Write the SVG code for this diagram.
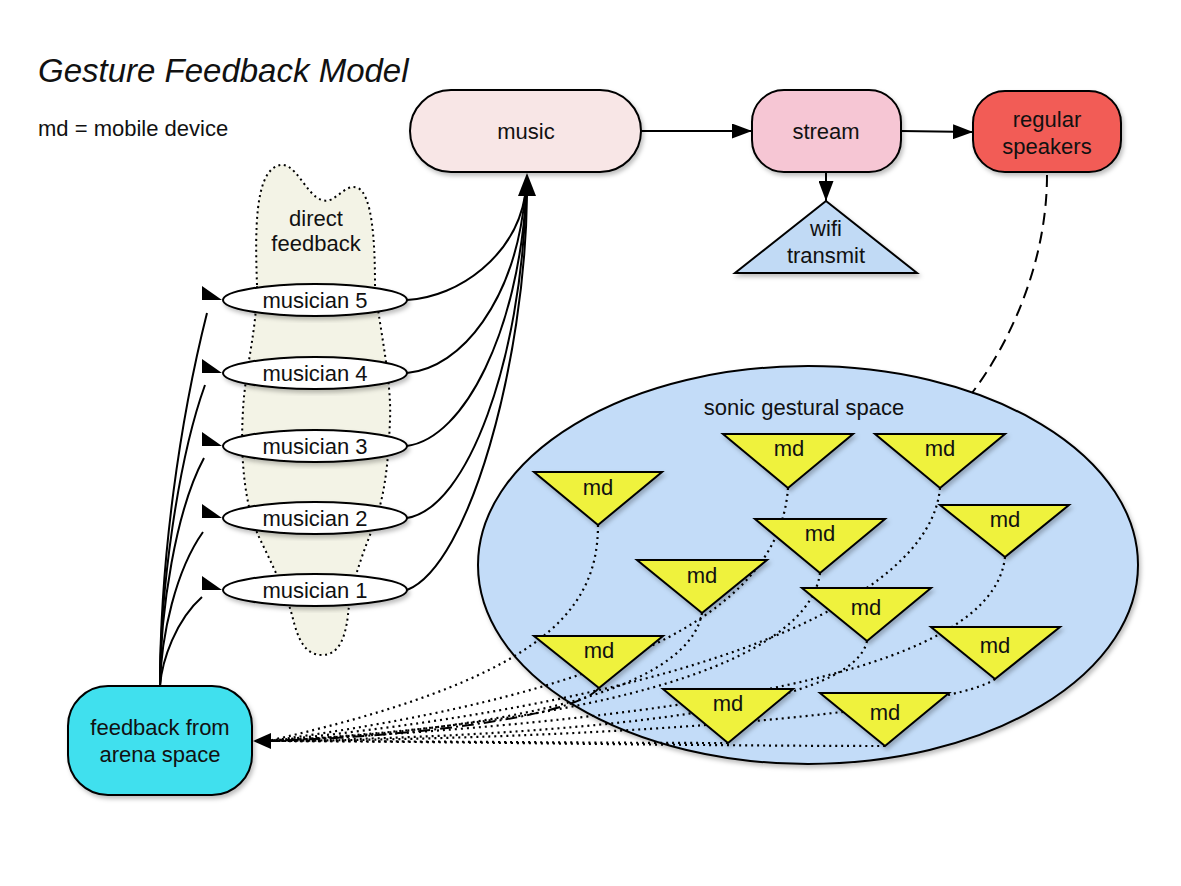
<svg xmlns="http://www.w3.org/2000/svg" width="1181" height="886" viewBox="0 0 1181 886">
<defs>
<filter id="sh" x="-10%" y="-10%" width="130%" height="130%">
<feDropShadow dx="2" dy="3" stdDeviation="2" flood-color="#000" flood-opacity="0.25"/>
</filter>
<marker id="ah" markerUnits="userSpaceOnUse" markerWidth="20" markerHeight="15" refX="20" refY="7.5" orient="auto">
<path d="M0,0 L20,7.5 L0,15 Z" fill="#000"/>
</marker>
</defs>
<style>
text{font-family:"Liberation Sans",Arial,sans-serif;fill:#111;text-anchor:middle}
.t{font-size:22px}
.node{stroke:#000;stroke-width:2}
.md{fill:#eff23d;stroke:#000;stroke-width:2;filter:url(#sh)}
.sol{fill:none;stroke:#000;stroke-width:2}
.dot{fill:none;stroke:#000;stroke-width:2.2;stroke-dasharray:2 4}
</style>
<rect width="1181" height="886" fill="#fff"/>

<g id="title">
<text x="38" y="82" style="font-size:33px;font-style:italic;text-anchor:start">Gesture Feedback Model</text>
<text x="38" y="136" style="font-size:22px;text-anchor:start">md = mobile device</text>
</g>

<g id="direct-feedback">
<path d="M257,285 C255,230 255,175 277,166 C295,158 305,195 322,200 C335,205 345,182 358,188 C372,195 375,240 375,285 C378,320 392,380 390,420 C388,470 384,500 372,530 C360,560 350,590 348,615 C345,640 338,655 322,655 C305,655 298,640 292,615 C285,590 270,560 258,535 C245,505 240,460 243,410 C245,370 257,330 257,285 Z" fill="#f3f3e6" stroke="#000" stroke-width="2" stroke-dasharray="2 3.5"/>
<text class="t" x="316" y="226">direct</text>
<text class="t" x="316" y="251">feedback</text>
</g>

<g id="sonic-gestural-space">
<ellipse cx="808" cy="565" rx="330" ry="199" fill="#c3dcf8" stroke="#000" stroke-width="2" filter="url(#sh)"/>
<text class="t" x="804" y="415">sonic gestural space</text>
</g>

<g id="connectors">
<path class="sol" d="M641,131 L752,131" marker-end="url(#ah)"/>
<path class="sol" d="M901,131 L973,132" marker-end="url(#ah)"/>
<path class="sol" d="M826,172 L826,201" marker-end="url(#ah)"/>
<path d="M1047,175 C1047,260 1012,340 972,393" fill="none" stroke="#000" stroke-width="2" stroke-dasharray="12 7"/>
<path class="sol" d="M407,300 C460,297 515,255 525,196"/>
<path class="sol" d="M407,373 C462,368 515,300 525,196"/>
<path class="sol" d="M407,446 C465,438 518,330 526,196"/>
<path class="sol" d="M407,518 C468,508 521,360 526,196"/>
<path class="sol" d="M407,590 C470,565 525,360 527,196"/>
<polygon points="527,173 518,196 536,196" fill="#000"/>
<path class="sol" d="M160,686 C160,560 180,420 207,313"/>
<path class="sol" d="M160,686 C160,590 178,460 205,385"/>
<path class="sol" d="M160,686 C160,610 176,510 204,458"/>
<path class="sol" d="M160,686 C161,635 176,570 203,532"/>
<path class="sol" d="M160,686 C162,660 176,620 202,597"/>
<polygon points="202,286 202,300 222,300" fill="#000"/>
<polygon points="202,359 202,373 222,373" fill="#000"/>
<polygon points="202,432 202,446 222,446" fill="#000"/>
<polygon points="202,504 202,518 222,518" fill="#000"/>
<polygon points="202,576 202,590 222,590" fill="#000"/>
<path class="dot" d="M598,525 C598,615 535,680 268,741"/>
<path class="dot" d="M788,488 C780,600 650,690 268,741"/>
<path class="dot" d="M940,488 C930,600 700,700 268,741"/>
<path class="dot" d="M1005,557 C995,650 800,715 268,741"/>
<path class="dot" d="M820,573 C810,650 650,720 268,741"/>
<path class="dot" d="M702,613 C690,680 550,728 268,741"/>
<path class="dot" d="M867,641 C855,700 650,735 268,741"/>
<path class="dot" d="M995,679 C960,705 700,738 268,741"/>
<path d="M599,688 C580,712 450,735 268,741" fill="none" stroke="#000" stroke-width="2" stroke-dasharray="12 4 2 4"/>
<path class="dot" d="M728,743 C600,743 400,741 268,741"/>
<path class="dot" d="M885,746 C700,746 400,741 268,741"/>
<polygon points="253,741 271,733 271,749" fill="#000"/>
</g>

<g id="music">
<rect class="node" x="410" y="90" width="231" height="82" rx="41" fill="#f8e6e6" filter="url(#sh)"/>
<text class="t" x="526" y="139">music</text>
</g>
<g id="stream">
<rect class="node" x="752" y="90" width="149" height="82" rx="32" fill="#f6c6d4" filter="url(#sh)"/>
<text class="t" x="826" y="139">stream</text>
</g>
<g id="regular-speakers">
<rect class="node" x="973" y="91" width="148" height="81" rx="32" fill="#f25c57" filter="url(#sh)"/>
<text class="t" x="1047" y="127">regular</text>
<text class="t" x="1047" y="154">speakers</text>
</g>
<g id="wifi-transmit">
<polygon class="node" points="826,201 917,273 735,273" fill="#c1daf5" filter="url(#sh)"/>
<text class="t" x="826" y="236">wifi</text>
<text class="t" x="826" y="263">transmit</text>
</g>

<g id="musician-5">
<ellipse class="node" cx="315" cy="300" rx="92" ry="16" fill="#fff" filter="url(#sh)"/>
<text class="t" x="315" y="308">musician 5</text>
</g>
<g id="musician-4">
<ellipse class="node" cx="315" cy="373" rx="92" ry="16" fill="#fff" filter="url(#sh)"/>
<text class="t" x="315" y="381">musician 4</text>
</g>
<g id="musician-3">
<ellipse class="node" cx="315" cy="446" rx="92" ry="16" fill="#fff" filter="url(#sh)"/>
<text class="t" x="315" y="454">musician 3</text>
</g>
<g id="musician-2">
<ellipse class="node" cx="315" cy="518" rx="92" ry="16" fill="#fff" filter="url(#sh)"/>
<text class="t" x="315" y="526">musician 2</text>
</g>
<g id="musician-1">
<ellipse class="node" cx="315" cy="590" rx="92" ry="16" fill="#fff" filter="url(#sh)"/>
<text class="t" x="315" y="598">musician 1</text>
</g>

<g id="feedback-arena">
<rect class="node" x="68" y="686" width="184" height="109" rx="40" fill="#3fe0ee" filter="url(#sh)"/>
<text class="t" x="160" y="735">feedback from</text>
<text class="t" x="160" y="762">arena space</text>
</g>

<g id="md-1"><polygon class="md" points="534,472 662,472 598,525"/><text class="t" x="598" y="495">md</text></g>
<g id="md-2"><polygon class="md" points="723,434 853,434 788,488"/><text class="t" x="789" y="456">md</text></g>
<g id="md-3"><polygon class="md" points="875,434 1005,434 940,488"/><text class="t" x="940" y="456">md</text></g>
<g id="md-4"><polygon class="md" points="940,505 1069,505 1005,557"/><text class="t" x="1005" y="527">md</text></g>
<g id="md-5"><polygon class="md" points="755,519 885,519 820,573"/><text class="t" x="820" y="541">md</text></g>
<g id="md-6"><polygon class="md" points="637,560 767,560 702,613"/><text class="t" x="702" y="583">md</text></g>
<g id="md-7"><polygon class="md" points="802,588 931,588 867,641"/><text class="t" x="866" y="615">md</text></g>
<g id="md-8"><polygon class="md" points="931,627 1060,627 995,679"/><text class="t" x="995" y="653">md</text></g>
<g id="md-9"><polygon class="md" points="534,636 663,636 599,688"/><text class="t" x="599" y="658">md</text></g>
<g id="md-10"><polygon class="md" points="663,689 793,689 728,743"/><text class="t" x="728" y="711">md</text></g>
<g id="md-11"><polygon class="md" points="820,693 949,693 885,746"/><text class="t" x="885" y="720">md</text></g>
</svg>
